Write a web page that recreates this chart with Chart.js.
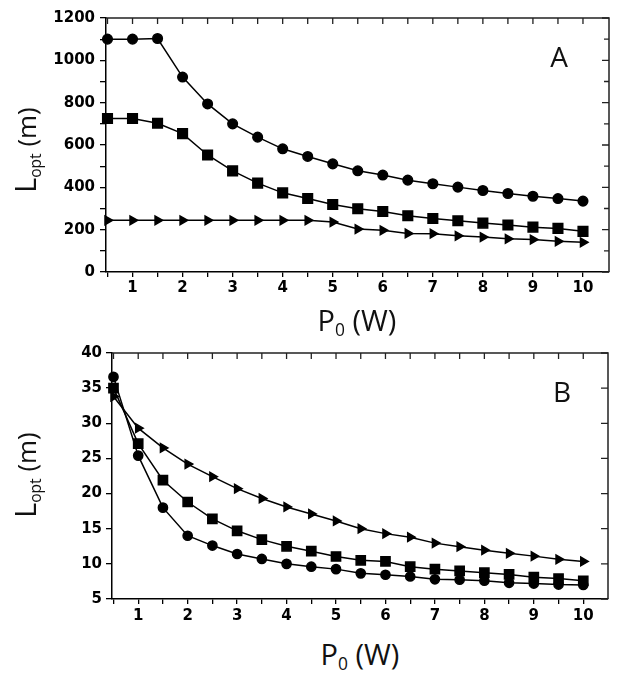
<!DOCTYPE html>
<html>
<head>
<meta charset="utf-8">
<script src="https://cdn.jsdelivr.net/npm/chart.js@4.4.1/dist/chart.umd.min.js"></script>
<style>
  body { margin: 0; background: #fff; }
  #wrap { position: relative; width: 620px; height: 692px; overflow: hidden; }
  canvas { position: absolute; left: 0; }
  .ttl { position: absolute; font-family: "Open Sans", sans-serif; color: #111; white-space: nowrap; line-height: 1; }
  .ttl sub { font-size: 0.6em; vertical-align: -0.3em; }
  .ytl { transform: translate(-50%, -50%) rotate(-90deg); font-size: 26px; }
  .xtl { transform: translate(-50%, -50%); font-size: 29px; }
  .big { font-size: 1.1em; }
  .tag { position: absolute; font-family: "Open Sans", sans-serif; font-size: 28px; color: #111; transform: translate(-50%, -50%); }
</style>
</head>
<body>
<div id="wrap">
  <canvas id="chartA" width="620" height="300" style="top:0"></canvas>
  <canvas id="chartB" width="620" height="300" style="top:330px"></canvas>
  <div class="ttl ytl" style="left:27px; top:150px"><span class="big">L</span><sub>opt</sub> (m)</div>
  <div class="ttl xtl" style="left:357px; top:322px">P<sub>0</sub> (W)</div>
  <div class="ttl ytl" style="left:27px; top:475px"><span class="big">L</span><sub>opt</sub> (m)</div>
  <div class="ttl xtl" style="left:360px; top:656px">P<sub>0</sub> (W)</div>
  <div class="tag" style="left:559px; top:56px">A</div>
  <div class="tag" style="left:562px; top:391px">B</div>
</div>
<script>
// P0 values (W)
var power = [0.5, 1, 1.5, 2, 2.5, 3, 3.5, 4, 4.5, 5, 5.5, 6, 6.5, 7, 7.5, 8, 8.5, 9, 9.5, 10];
var xTicks = [0.5, 1, 1.5, 2, 2.5, 3, 3.5, 4, 4.5, 5, 5.5, 6, 6.5, 7, 7.5, 8, 8.5, 9, 9.5, 10];

// panel A, Lopt (m)
var aCircles = [1100, 1100, 1103, 921, 794, 700, 637, 582, 546, 511, 478, 458, 434, 417, 401, 385, 371, 358, 347, 335];
var aSquares = [725, 725, 703, 654, 553, 478, 420, 374, 347, 319, 299, 286, 266, 253, 242, 231, 222, 212, 206, 192];
var aTriangles = [244, 244, 244, 244, 244, 244, 244, 244, 244, 236, 203, 197, 182, 181, 171, 165, 157, 153, 145, 140];

// panel B, Lopt (m)
var bCircles = [36.6, 25.4, 18.0, 14.0, 12.6, 11.4, 10.7, 10.0, 9.6, 9.25, 8.65, 8.45, 8.2, 7.8, 7.75, 7.6, 7.3, 7.2, 7.05, 7.0];
var bSquares = [35.0, 27.1, 21.9, 18.8, 16.4, 14.7, 13.45, 12.5, 11.8, 11.05, 10.5, 10.35, 9.6, 9.25, 9.0, 8.75, 8.5, 8.1, 7.9, 7.6];
var bTriangles = [33.8, 29.3, 26.5, 24.2, 22.4, 20.7, 19.3, 18.1, 17.1, 16.1, 15.0, 14.3, 13.8, 12.95, 12.45, 11.95, 11.5, 11.1, 10.65, 10.35];

function pts(ys) {
  return power.map(function (p, i) { return { x: p, y: ys[i] }; });
}

function series(ys, style, r) {
  return {
    data: pts(ys),
    showLine: true,
    borderColor: '#000',
    backgroundColor: '#000',
    borderWidth: 1.5,
    pointStyle: style,
    pointRadius: r,
    pointRotation: style === 'triangle' ? 90 : 0,
    clip: false
  };
}

// frame on top/right with inward ticks
var frame = {
  id: 'frame',
  beforeDatasetsDraw: function (chart) {
    var ctx = chart.ctx, a = chart.chartArea;
    var xs = chart.scales.x, ys = chart.scales.y;
    ctx.save();
    ctx.strokeStyle = '#222';
    ctx.lineWidth = 1.5;
    ctx.beginPath();
    ctx.moveTo(a.left, a.top);
    ctx.lineTo(a.right, a.top);
    ctx.lineTo(a.right, a.bottom);
    ctx.stroke();
    ctx.lineWidth = 1.3;
    ctx.beginPath();
    xs.ticks.forEach(function (t) {
      var px = xs.getPixelForValue(t.value);
      ctx.moveTo(px, a.top);
      ctx.lineTo(px, a.top + 6);
    });
    ys.ticks.forEach(function (t) {
      var py = ys.getPixelForValue(t.value);
      var len = t.label !== '' ? 7 : 5;
      ctx.moveTo(a.right, py);
      ctx.lineTo(a.right - len, py);
    });
    ctx.stroke();
    ctx.restore();
  }
};

function makeChart(id, sets, yOpt, box) {
  var ctx = document.getElementById(id).getContext('2d');
  return new Chart(ctx, {
    type: 'scatter',
    data: { datasets: sets },
    plugins: [frame],
    options: {
      responsive: false,
      animation: false,
      layout: { padding: { top: box.top, right: box.right, left: 0, bottom: 0 } },
      plugins: { legend: { display: false }, tooltip: { enabled: false } },
      scales: {
        x: {
          type: 'linear',
          min: 0.47,
          max: box.xmax,
          afterBuildTicks: function (scale) {
            scale.ticks = xTicks.map(function (v) { return { value: v }; });
          },
          afterFit: function (scale) { scale.height = box.xh; },
          ticks: {
            autoSkip: false,
            maxRotation: 0,
            padding: box.xpad,
            color: '#000',
            font: { family: 'DejaVu Sans', weight: 'bold', size: 15 },
            callback: function (v) { return v % 1 === 0 ? String(v) : ''; }
          },
          grid: { drawOnChartArea: false, drawTicks: true, tickLength: 5, color: '#000', lineWidth: 1.3 },
          border: { display: true, color: '#000', width: 1.5 }
        },
        y: {
          min: yOpt.min,
          max: yOpt.max,
          afterFit: function (scale) { scale.width = box.yw; },
          ticks: {
            stepSize: yOpt.step,
            padding: box.ypad,
            color: '#000',
            font: { family: 'DejaVu Sans', weight: 'bold', size: 15 },
            callback: function (v) { return v % yOpt.label === 0 ? String(v) : ''; }
          },
          grid: { drawOnChartArea: false, drawTicks: true, tickLength: 6, color: '#000', lineWidth: 1.3 },
          border: { display: true, color: '#000', width: 1.5 }
        }
      }
    }
  });
}

makeChart('chartA', [
  series(aCircles, 'circle', 4.8),
  series(aSquares, 'rect', 6.8),
  series(aTriangles, 'triangle', 5)
], { min: 0, max: 1200, step: 100, label: 200 },
   { top: 18, right: 11, yw: 106, xh: 28, xpad: 2, ypad: 5, xmax: 10.52 });

makeChart('chartB', [
  series(bCircles, 'circle', 4.6),
  series(bSquares, 'rect', 6.5),
  series(bTriangles, 'triangle', 5)
], { min: 5, max: 40, step: 2.5, label: 5 },
   { top: 23, right: 12, yw: 112, xh: 31, xpad: 3, ypad: 4, xmax: 10.5 });
</script>
</body>
</html>
